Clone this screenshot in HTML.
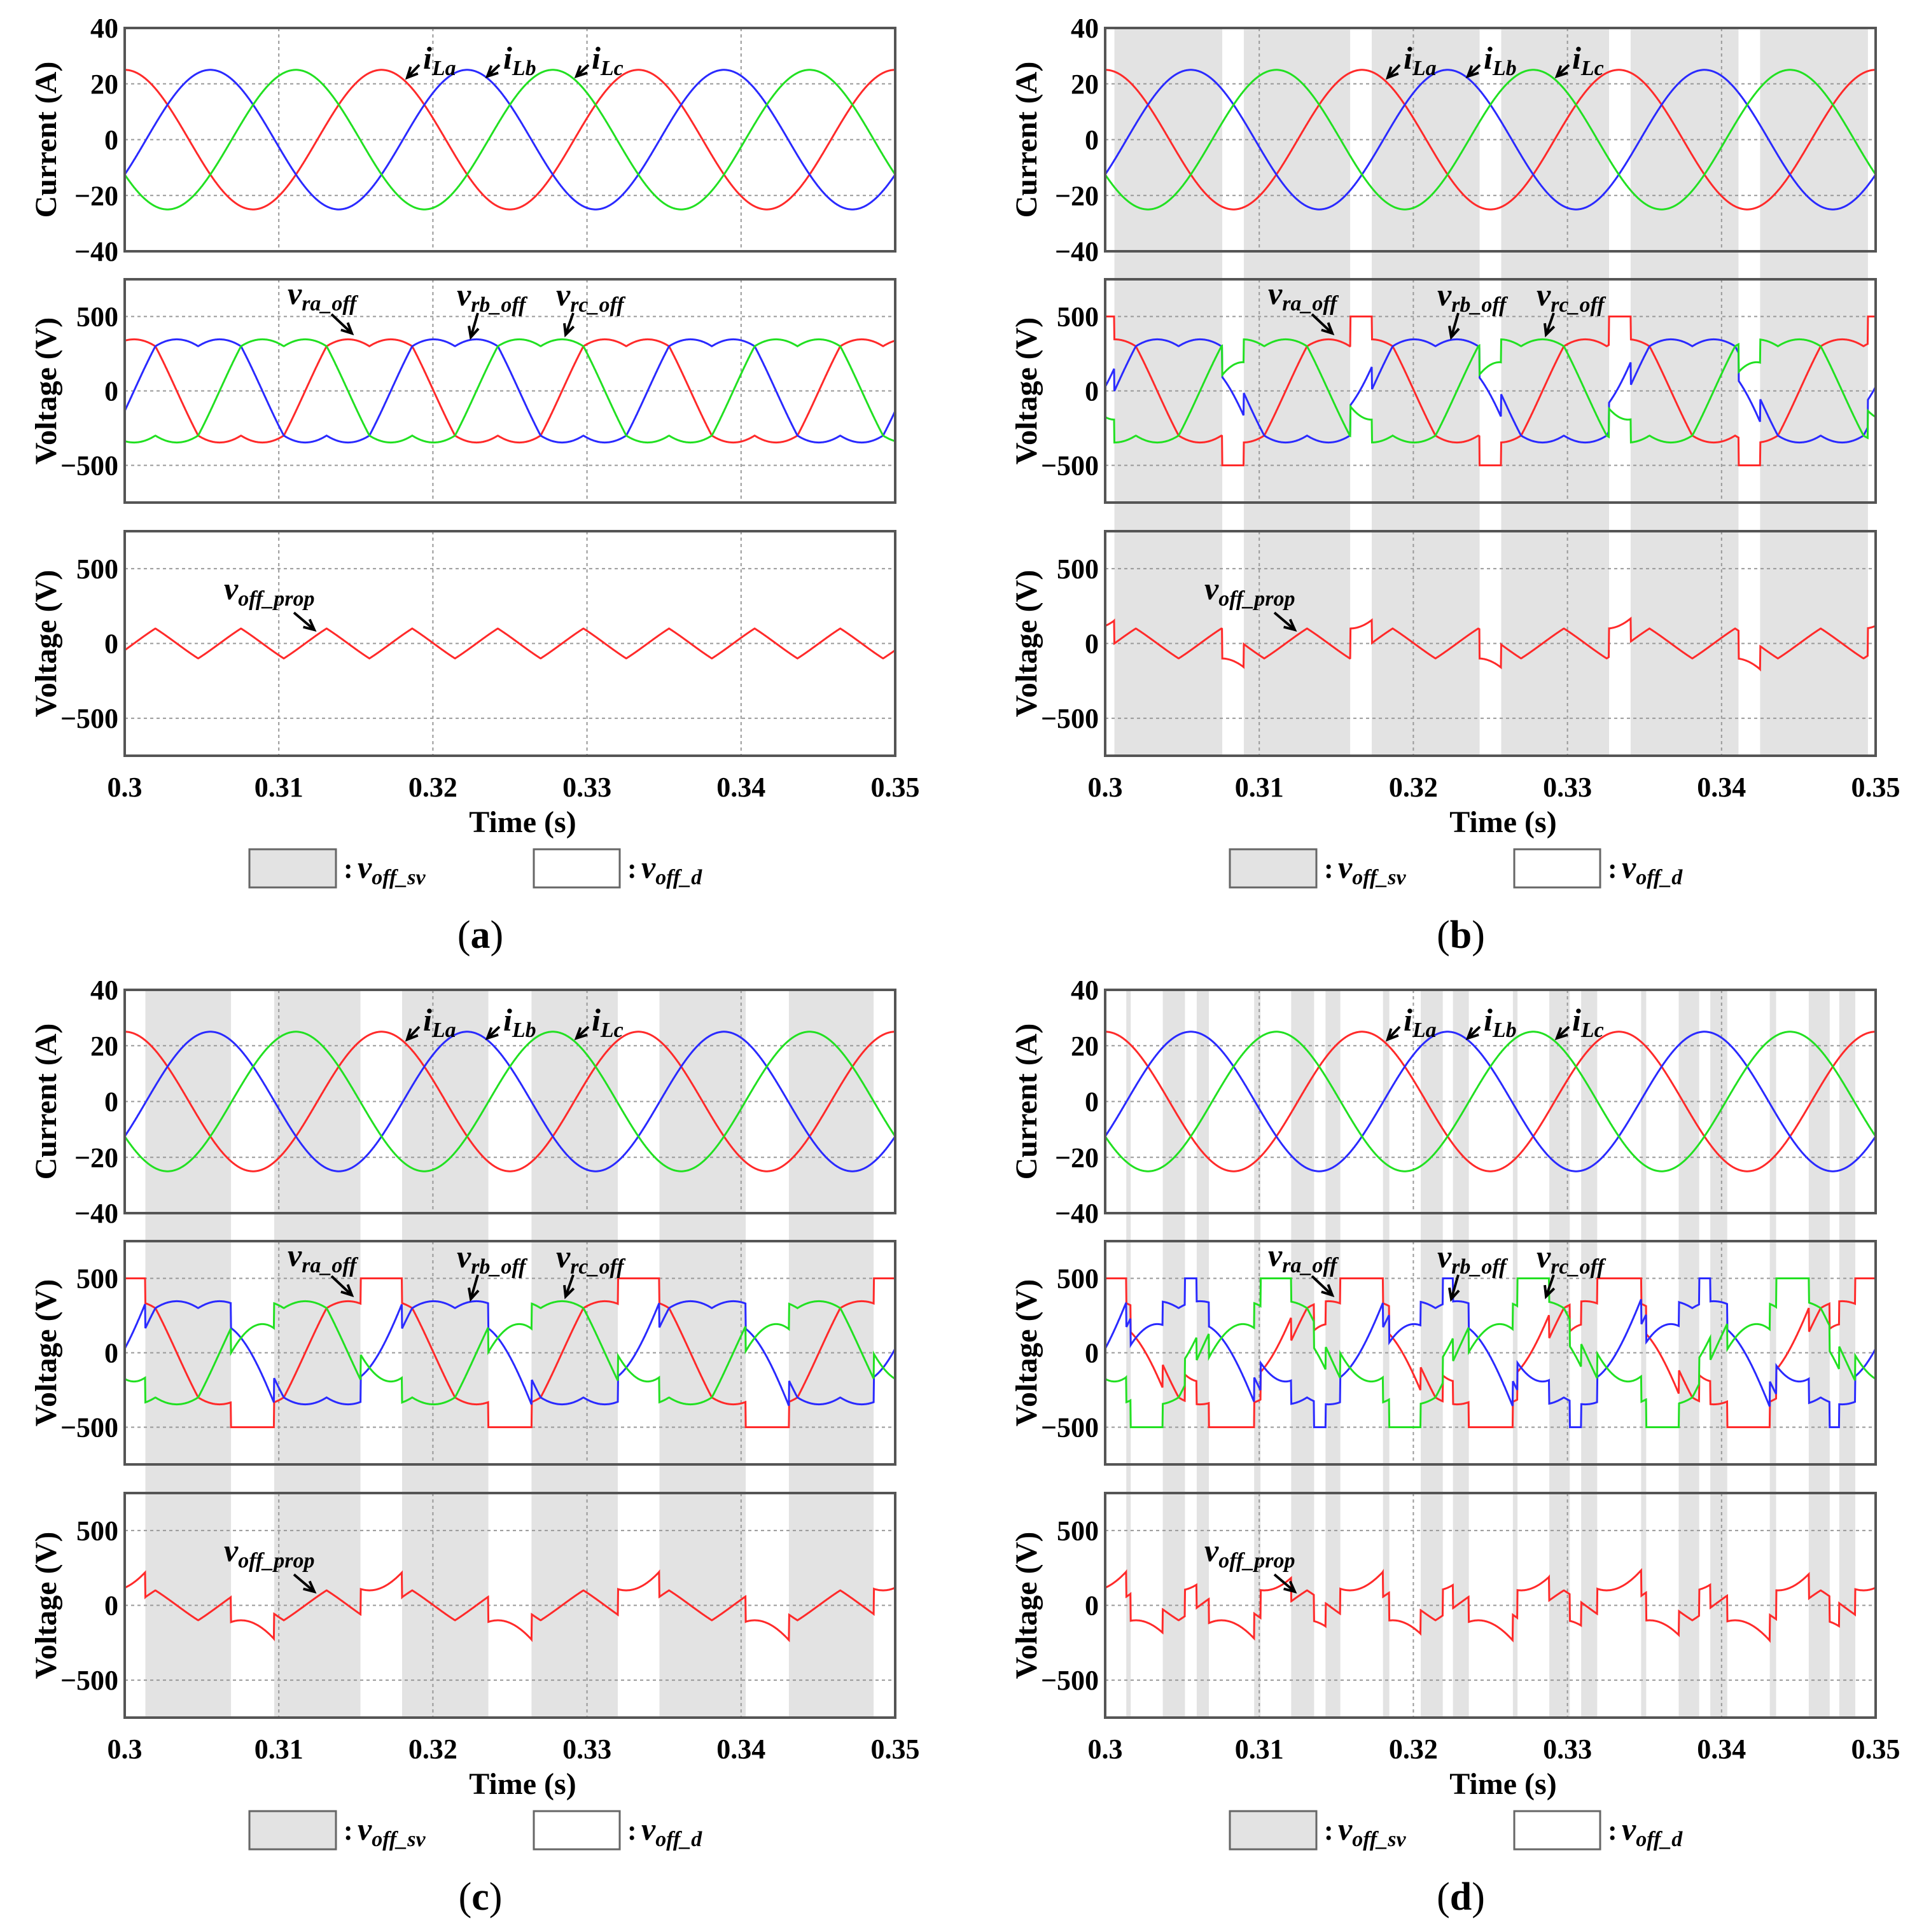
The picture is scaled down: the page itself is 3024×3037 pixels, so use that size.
<!DOCTYPE html>
<html><head><meta charset="utf-8"><style>
html,body{margin:0;padding:0;background:#fff;}
svg{display:block;}
text{font-family:"Liberation Serif",serif;font-weight:bold;fill:#000;}
</style></head><body>
<svg id="fig" xmlns="http://www.w3.org/2000/svg" width="3024" height="3037" viewBox="0 0 3024 3037"></svg>
<script>
// ---- data ----
const timeStart = 0.3;
const timeEnd = 0.35;
const xTicks = [0.3, 0.31, 0.32, 0.33, 0.34, 0.35];
const xTickLabels = ['0.3', '0.31', '0.32', '0.33', '0.34', '0.35'];
const currentTicks = [40, 20, 0, -20, -40];
const currentTickLabels = ['40', '20', '0', '\u221220', '\u221240'];
const voltageTicks = [500, 0, -500];
const voltageTickLabels = ['500', '0', '\u2212500'];
const lineFreqHz = [60];
const currentAmpA = [25];
const phaseShiftDeg = [0, -120, 120];
const voltageAmpV = [400];
const voltageLeadDeg = [17];
const dcHalfV = [500];
const panelLetters = ['a', 'b', 'c', 'd'];
const clampBasis = ['none', 'voltage', 'voltage', 'current'];
const grayA = [];
const grayB = [[0.3006,0.3076],[0.3090,0.3159],[0.3173,0.3243],[0.3257,0.3327],[0.3341,0.3411],[0.3425,0.3495]];
const grayC = [[0.30134,0.3069],[0.3097,0.3153],[0.3180,0.3236],[0.3264,0.3320],[0.3347,0.3403],[0.3431,0.3486]];
const grayD = [[0.30137,0.30166],[0.30374,0.30518],[0.30594,0.30673],[0.30967,0.31008],[0.31207,0.31356],[0.31430,0.31526],[0.31803,0.31844],[0.32048,0.32191],[0.32257,0.32360],[0.32646,0.32676],[0.32882,0.33015],[0.33089,0.33193],[0.33478,0.33511],[0.33722,0.33855],[0.33927,0.34037],[0.34313,0.34354],[0.34566,0.34702],[0.34764,0.34868]];
const grayLists = [grayA, grayB, grayC, grayD];

// ---- layout ----
const NS = 'http://www.w3.org/2000/svg';
const svg = document.getElementById('fig');
const colors = ['#ff2a2a', '#2a2aff', '#22e022'];
const panelOffsets = [[0,0],[1541,0],[0,1512],[1541,1512]];
const X0 = 196, X1 = 1407;
const subplots = [{top:44,bot:395,max:40,min:-40},{top:439,bot:790,max:750,min:-750},{top:835,bot:1188,max:750,min:-750}];

function mk(tag, attrs, parent){
  const e = document.createElementNS(NS, tag);
  for (const k in attrs) e.setAttribute(k, attrs[k]);
  (parent || svg).appendChild(e);
  return e;
}
function inGray(list, t){ for (const g of list) if (t >= g[0] && t < g[1]) return true; return false; }
function typicalWhite(list){
  const w = [];
  for (let i = 0; i + 1 < list.length; i++) w.push(list[i+1][0] - list[i][1]);
  if (!w.length) return 0;
  w.sort((a,b)=>a-b);
  return w[Math.floor(w.length/2)];
}
function whiteMid(list, t){
  let a = timeStart, b = timeEnd;
  for (const g of list){
    if (g[1] <= t && g[1] > a) a = g[1];
    if (g[0] > t && g[0] < b) b = g[0];
  }
  const tw = typicalWhite(list);
  if (a === timeStart && b - a < tw) return b - tw/2;
  if (b === timeEnd && b - a < tw) return a + tw/2;
  return (a + b)/2;
}
function phaseVals(t){
  const w = 2*Math.PI*lineFreqHz[0]*(t - timeStart);
  const lead = voltageLeadDeg[0]*Math.PI/180;
  const v = phaseShiftDeg.map(ph => voltageAmpV[0]*Math.cos(w + lead + ph*Math.PI/180));
  const cur = phaseShiftDeg.map(ph => Math.cos(w + ph*Math.PI/180));
  return {v, cur, w};
}
function computeOffset(p, t){
  const r = phaseVals(t);
  const v = r.v;
  let off;
  if (clampBasis[p] === 'none' || inGray(grayLists[p], t)) {
    off = -(Math.max(...v) + Math.min(...v))/2;
  } else {
    const m = phaseVals(whiteMid(grayLists[p], t));
    const ref = clampBasis[p] === 'current' ? m.cur : m.v;
    let k = 0;
    for (let j = 1; j < 3; j++) if (Math.abs(ref[j]) > Math.abs(ref[k])) k = j;
    off = (m.v[k] >= 0 ? dcHalfV[0] : -dcHalfV[0]) - v[k];
  }
  return {v, off, w:r.w};
}

function addText(parent, x, y, size, anchor, content, extra){
  const t = mk('text', Object.assign({x:x, y:y, 'font-size':size, 'text-anchor':anchor}, extra||{}), parent);
  t.textContent = content;
  return t;
}
function subLabel(parent, x, y, main, sub, name){
  const t = mk('text', {x:x, y:y, 'font-size':50, 'font-style':'italic'}, parent);
  
  
  const a = mk('tspan', {}, t); a.textContent = main;
  const b = mk('tspan', {dy:10, 'font-size':34}, t); b.textContent = sub;
  return t;
}
function arrow(parent, x1, y1, x2, y2, name){
  const g = mk('g', {}, parent);
  
  
  mk('line', {x1:x1, y1:y1, x2:x2, y2:y2, stroke:'#000', 'stroke-width':4}, g);
  const ang = Math.atan2(y2-y1, x2-x1), L = 18, s = 0.45;
  const p1 = [x2 - L*Math.cos(ang-s), y2 - L*Math.sin(ang-s)];
  const p2 = [x2 - L*Math.cos(ang+s), y2 - L*Math.sin(ang+s)];
  mk('polyline', {points:`${p1[0]},${p1[1]} ${x2},${y2} ${p2[0]},${p2[1]}`, fill:'none', stroke:'#000', 'stroke-width':4}, g);
}

for (let p = 0; p < 4; p++){
  const [ox, oy] = panelOffsets[p];
  const G = mk('g', {transform:`translate(${ox},${oy})`});
  
  
  const xs = t => X0 + (t - timeStart)/(timeEnd - timeStart)*(X1 - X0);
  const ys = (s, val) => s.top + (s.max - val)/(s.max - s.min)*(s.bot - s.top);

  for (const g of grayLists[p]){
    const r = mk('rect', {x:xs(g[0]), y:44, width:xs(g[1])-xs(g[0]), height:1188-44, fill:'#e3e3e3'}, G);
    
    
  }

  const N = 2500;
  const curPts = [[],[],[]], vPts = [[],[],[]], offPts = [];
  for (let i = 0; i <= N; i++){
    const t = timeStart + (timeEnd - timeStart)*i/N;
    const r = computeOffset(p, t);
    const x = xs(t).toFixed(1);
    for (let j = 0; j < 3; j++){
      const ic = currentAmpA[0]*Math.cos(r.w + phaseShiftDeg[j]*Math.PI/180);
      curPts[j].push(x + ',' + ys(subplots[0], ic).toFixed(1));
      vPts[j].push(x + ',' + ys(subplots[1], r.v[j] + r.off).toFixed(1));
    }
    offPts.push(x + ',' + ys(subplots[2], r.off).toFixed(1));
  }

  subplots.forEach((s, si) => {
    const ax = mk('g', {}, G);
    
    
    const ticks = si === 0 ? currentTicks : voltageTicks;
    const labels = si === 0 ? currentTickLabels : voltageTickLabels;
    ticks.forEach(v => {
      if (v <= s.min || v >= s.max) return;
      const l = mk('line', {x1:X0, x2:X1, y1:ys(s,v), y2:ys(s,v), stroke:'#999', 'stroke-width':2, 'stroke-dasharray':'5 5'}, ax);
      
      
    });
    xTicks.forEach(t => {
      if (t <= timeStart || t >= timeEnd) return;
      const l = mk('line', {x1:xs(t), x2:xs(t), y1:s.top, y2:s.bot, stroke:'#999', 'stroke-width':2, 'stroke-dasharray':'5 5'}, ax);
      
      
    });
    const cid = `clip${p}_${si}`;
    const cp = mk('clipPath', {id:cid}, ax);
    mk('rect', {x:X0, y:s.top, width:X1-X0, height:s.bot-s.top}, cp);
    const lg = mk('g', {'clip-path':`url(#${cid})`}, ax);
    if (si === 0 || si === 1){
      const src = si === 0 ? curPts : vPts;
      const nm = si === 0 ? ['current-ila','current-ilb','current-ilc'] : ['voltage-vra-off','voltage-vrb-off','voltage-vrc-off'];
      for (let j = 0; j < 3; j++){
        const pl = mk('polyline', {points:src[j].join(' '), fill:'none', stroke:colors[j], 'stroke-width':3}, lg);
        
        
      }
    } else {
      const pl = mk('polyline', {points:offPts.join(' '), fill:'none', stroke:colors[0], 'stroke-width':3}, lg);
      
      
    }
    const fr = mk('rect', {x:X0, y:s.top, width:X1-X0, height:s.bot-s.top, fill:'none', stroke:'#555', 'stroke-width':4}, ax);
    
    
    ticks.forEach((v, k) => {
      const tl = addText(ax, 186, ys(s,v) + 15, 44, 'end', labels[k]);
      
      
    });
    const cy = (s.top + s.bot)/2;
    const yt = addText(ax, 0, 0, 48, 'middle', si === 0 ? 'Current (A)' : 'Voltage (V)', {transform:`translate(88,${cy}) rotate(-90)`});
    
    
  });

  xTicks.forEach((t, k) => {
    const tl = addText(G, xs(t), 1252, 44, 'middle', xTickLabels[k]);
    
    
  });
  const xt = addText(G, (X0+X1)/2 + 20, 1308, 48, 'middle', 'Time (s)');
  
  

  subLabel(G, 665, 108, 'i', 'La', 'label-ila'); arrow(G, 659, 102, 640, 122, 'arrow-ila');
  subLabel(G, 791, 108, 'i', 'Lb', 'label-ilb'); arrow(G, 785, 102, 766, 120, 'arrow-ilb');
  subLabel(G, 930, 108, 'i', 'Lc', 'label-ilc'); arrow(G, 925, 102, 906, 120, 'arrow-ilc');
  subLabel(G, 452, 478, 'v', 'ra_off', 'label-vra-off'); arrow(G, 521, 494, 553, 524, 'arrow-vra-off');
  subLabel(G, 718, 480, 'v', 'rb_off', 'label-vrb-off'); arrow(G, 751, 492, 740, 530, 'arrow-vrb-off');
  subLabel(G, 874, 480, 'v', 'rc_off', 'label-vrc-off'); arrow(G, 901, 492, 889, 526, 'arrow-vrc-off');
  subLabel(G, 352, 942, 'v', 'off_prop', 'label-voff-prop'); arrow(G, 462, 963, 494, 990, 'arrow-voff-prop');

  const lgd = mk('g', {}, G);
  
  
  const b1 = mk('rect', {x:392, y:1335, width:136, height:60, fill:'#e3e3e3', stroke:'#666', 'stroke-width':3}, lgd);
  
  
  const t1 = addText(lgd, 540, 1380, 44, 'start', ':');
  
  
  subLabel(lgd, 562, 1380, 'v', 'off_sv', 'legend-label-voff-sv');
  const b2 = mk('rect', {x:839, y:1335, width:135, height:60, fill:'#fff', stroke:'#666', 'stroke-width':3}, lgd);
  
  
  const t2 = addText(lgd, 986, 1380, 44, 'start', ':');
  
  
  subLabel(lgd, 1008, 1380, 'v', 'off_d', 'legend-label-voff-d');

  const pl = mk('text', {x:755, y:1490, 'font-size':62, 'text-anchor':'middle', 'font-weight':'normal'}, G);
  
  
  const a1 = mk('tspan', {'font-weight':'normal'}, pl); a1.textContent = '(';
  const a2 = mk('tspan', {'font-weight':'bold'}, pl); a2.textContent = panelLetters[p];
  const a3 = mk('tspan', {'font-weight':'normal'}, pl); a3.textContent = ')';
}
</script>
</body></html>
